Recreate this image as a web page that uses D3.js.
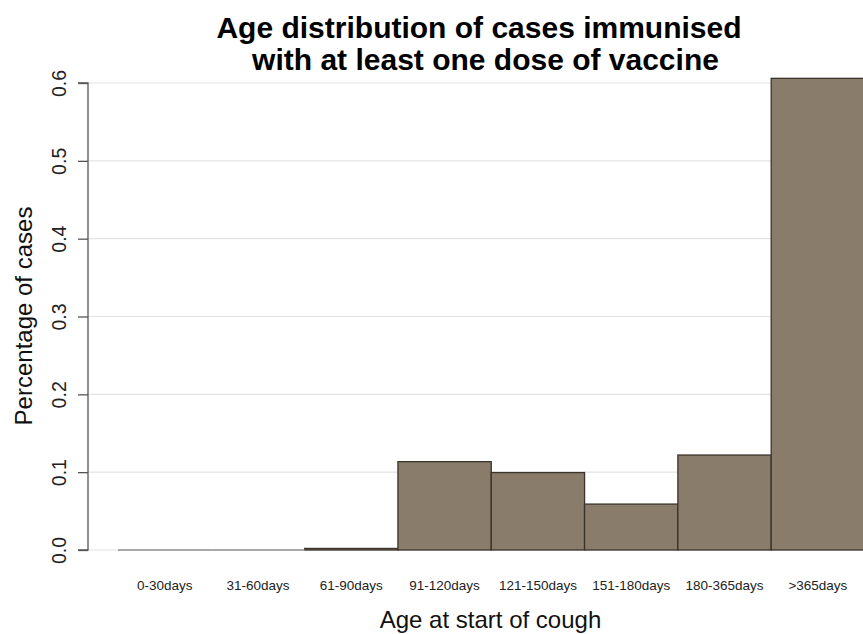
<!DOCTYPE html>
<html><head><meta charset="utf-8">
<script src="https://cdn.jsdelivr.net/npm/d3@7"></script>
<style>body{margin:0;background:#fff;} svg{display:block;font-family:"Liberation Sans",Arial,sans-serif;}</style>
</head><body>
<svg id="c" width="863" height="634"></svg>
<script>
const categories = ["0-30days","31-60days","61-90days","91-120days","121-150days","151-180days","180-365days",">365days"];
const values = [0, 0, 0.002, 0.1135, 0.0995, 0.059, 0.122, 0.606];
const yTicks = [0, 0.1, 0.2, 0.3, 0.4, 0.5, 0.6];
const titleLines = ["Age distribution of cases immunised", "with at least one dose of vaccine"];

const svg = d3.select("#c");
const W = 863, H = 634;
const y = d3.scaleLinear().domain([0, 0.6]).range([550, 83]);
const x = d3.scaleBand().domain(categories).range([118, 864.5]).padding(0);

// gridlines
svg.append("g").selectAll("line").data(yTicks).join("line")
  .attr("x1", 88).attr("x2", W).attr("y1", d => y(d)).attr("y2", d => y(d))
  .attr("stroke", "#e3e3e3").attr("stroke-width", 1.2);

// bars
const barData = values.map((v, i) => ({cat: categories[i], v}));
svg.append("g").selectAll("rect").data(barData.filter(d => d.v > 0)).join("rect")
  .attr("x", d => x(d.cat))
  .attr("width", x.bandwidth())
  .attr("y", d => y(d.v))
  .attr("height", d => y(0) - y(d.v))
  .attr("fill", "#8a7c6a")
  .attr("stroke", "#3b342b")
  .attr("stroke-width", 1.3);
// zero-height bars drawn as their outline on the baseline
svg.append("g").selectAll("line").data(barData.filter(d => d.v === 0)).join("line")
  .attr("x1", d => x(d.cat)).attr("x2", d => x(d.cat) + x.bandwidth())
  .attr("y1", d => y(d.v)).attr("y2", d => y(d.v))
  .attr("stroke", "#8f8f8f").attr("stroke-width", 1.6);

// y axis
const yAxis = d3.axisLeft(y).tickValues(yTicks).tickFormat(d3.format(".1f")).tickSize(10).tickPadding(6);
const gy = svg.append("g").attr("transform", "translate(88,0)").call(yAxis);
gy.select(".domain").attr("stroke", "#555").attr("stroke-width", 1.3).attr("d", `M-10,${y(0.6)}H0V${y(0)}H-10`);
gy.selectAll(".tick line").attr("stroke", "#555").attr("stroke-width", 1.3);
gy.selectAll(".tick text")
  .attr("transform", "rotate(-90)")
  .attr("x", 0).attr("y", -22).attr("dy", "0")
  .attr("text-anchor", "middle")
  .attr("fill", "#222")
  .style("font-size", "19.5px");

// x labels
svg.append("g").selectAll("text").data(categories).join("text")
  .attr("x", d => x(d) + x.bandwidth() / 2)
  .attr("y", 590)
  .attr("text-anchor", "middle")
  .attr("fill", "#222")
  .style("font-size", "13.5px")
  .text(d => d);

// axis titles
svg.append("text").attr("x", 490.5).attr("y", 628).attr("text-anchor", "middle")
  .style("font-size", "24px").attr("fill", "#111").text("Age at start of cough");
svg.append("text").attr("transform", "translate(32,316) rotate(-90)").attr("text-anchor", "middle")
  .style("font-size", "24px").attr("fill", "#111").text("Percentage of cases");

// title
svg.append("text").attr("x", 479).attr("y", 38).attr("text-anchor", "middle")
  .style("font-size", "30px").style("font-weight", "bold").text(titleLines[0]);
svg.append("text").attr("x", 485.5).attr("y", 70).attr("text-anchor", "middle")
  .style("font-size", "30px").style("font-weight", "bold").text(titleLines[1]);
</script>
</body></html>
